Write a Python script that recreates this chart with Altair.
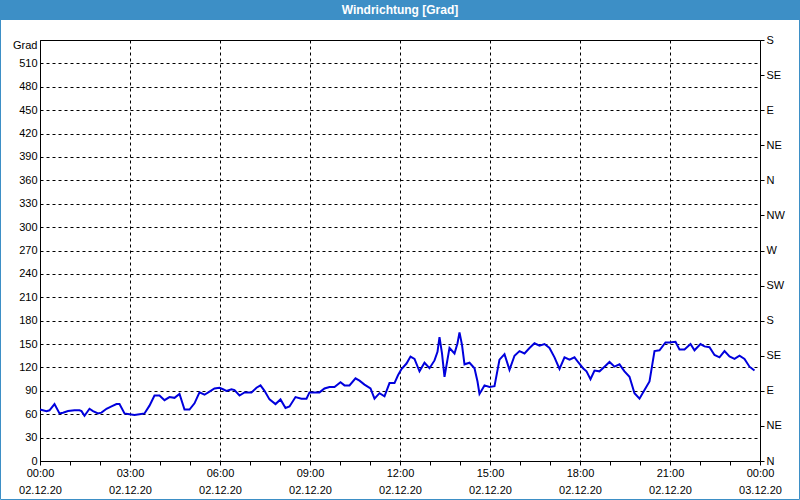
import json
import altair as alt
import pandas as pd

# ---- data -------------------------------------------------------------
minutes = [0, 13, 19, 29, 39, 46, 56, 69, 79, 83, 89, 99, 106, 116, 123, 133, 143, 153, 159, 169,
           179, 189, 199, 209, 219, 229, 239, 249, 259, 269, 279, 289, 299, 309, 319, 329, 339, 349, 359, 366,
           373, 383, 389, 399, 409, 423, 433, 441, 449, 459, 471, 481, 491, 499, 511, 523, 533, 539, 549, 559,
           569, 579, 589, 601, 609, 619, 631, 639, 649, 661, 669, 679, 689, 699, 709, 716, 723, 733, 741, 749,
           759, 769, 779, 789, 795, 799, 804, 809, 819, 829, 835, 839, 844, 849, 859, 869, 875, 879, 889, 899,
           909, 919, 929, 939, 949, 959, 969, 979, 989, 999, 1009, 1019, 1029, 1039, 1049, 1059, 1069, 1076, 1086, 1093,
           1101, 1109, 1119, 1129, 1139, 1149, 1159, 1169, 1179, 1189, 1199, 1209, 1219, 1229, 1239, 1251, 1259, 1271, 1279, 1289,
           1301, 1309, 1321, 1329, 1339, 1349, 1359, 1369, 1379, 1389, 1399, 1409, 1419, 1429]
degrees = [66, 64, 65, 73, 61, 62, 64, 65, 65, 64, 58, 67, 64, 61, 62, 67, 70, 73, 73, 61,
           60, 59, 60, 61, 71, 84, 84, 78, 82, 81, 86, 66, 66, 74, 88, 85, 89, 93, 94, 92,
           90, 92, 91, 84, 88, 88, 94, 97, 90, 79, 73, 79, 68, 70, 82, 80, 80, 88, 88, 88,
           93, 95, 95, 101, 97, 97, 106, 103, 98, 93, 80, 87, 83, 100, 100, 110, 118, 125, 134, 131,
           115, 126, 119, 129, 140, 159, 138, 108, 145, 138, 151, 165, 149, 124, 126, 119, 102, 86, 97, 95,
           96, 130, 137, 117, 135, 141, 138, 145, 151, 148, 150, 145, 133, 118, 133, 130, 133, 127, 119, 115,
           105, 116, 115, 121, 127, 121, 124, 115, 108, 87, 80, 91, 102, 141, 142, 152, 152, 153, 143, 143,
           150, 142, 150, 147, 146, 136, 133, 141, 134, 131, 135, 131, 121, 116]

x_tick_values = [0, 60, 120, 180, 240, 300, 360, 420, 480, 540, 600, 660, 720, 780, 840, 900,
                 960, 1020, 1080, 1140, 1200, 1260, 1320, 1380, 1440]
x_tick_times = ["00:00", "03:00", "06:00", "09:00", "12:00", "15:00", "18:00", "21:00", "00:00"]
x_tick_dates = ["02.12.20", "02.12.20", "02.12.20", "02.12.20", "02.12.20",
                "02.12.20", "02.12.20", "02.12.20", "03.12.20"]
y_tick_values = [0, 30, 60, 90, 120, 150, 180, 210, 240, 270, 300, 330, 360, 390, 420, 450, 480, 510]
compass_values = [0, 45, 90, 135, 180, 225, 270, 315, 360, 405, 450, 495, 540]
compass_labels = ["N", "NE", "E", "SE", "S", "SW", "W", "NW", "N", "NE", "E", "SE", "S"]
title_text = "Windrichtung [Grad]"
y_title = "Grad"

df = pd.DataFrame({"minute": minutes, "deg": degrees})

FONT = "Liberation Sans"
BAR = "#3d8fc6"

x_label_expr = (
    f"datum.value % 180 == 0 ? [{json.dumps(x_tick_times)}[round(datum.value/180)], "
    f"{json.dumps(x_tick_dates)}[round(datum.value/180)]] : ''"
)
right_label_expr = f"{json.dumps(compass_labels)}[round(datum.value/45)]"

x_scale = alt.Scale(domain=[0, 1440], nice=False, zero=False)
y_scale = alt.Scale(domain=[0, 540], nice=False)

x_axis = alt.Axis(values=x_tick_values, labelExpr=x_label_expr,
                  grid=True,
                  gridOpacity={"condition": {"test": "datum.value % 180 == 0", "value": 1}, "value": 0},
                  gridColor="black", gridDash=[3, 3], gridWidth=1,
                  ticks=True, tickSize=4, tickColor="black",
                  domainColor="black", labelPadding=2, labelLineHeight=17,
                  labelFont=FONT, labelFontSize=11, labelColor="black",
                  labelOverlap=False, labelFlush=False)

line = alt.Chart(df).mark_line(color="#0000dd", strokeWidth=2).encode(
    x=alt.X("minute:Q", scale=x_scale, title=None, axis=x_axis),
    y=alt.Y("deg:Q", scale=y_scale,
            axis=alt.Axis(orient="left", values=y_tick_values, ticks=False,
                          grid=True, gridColor="black", gridDash=[3, 3], gridWidth=1,
                          domainColor="black", labelPadding=3,
                          labelFont=FONT, labelFontSize=11, labelColor="black",
                          labelOverlap=False, labelFlush=False,
                          title=y_title, titleAngle=0, titleX=-3, titleY=5,
                          titleAlign="right", titleBaseline="middle",
                          titleFont=FONT, titleFontSize=11, titleFontWeight="normal",
                          titleColor="black")),
)

right = alt.Chart(df).mark_line(opacity=0).encode(
    x=alt.X("minute:Q", scale=x_scale, title=None, axis=x_axis),
    y=alt.Y("deg:Q", scale=y_scale,
            axis=alt.Axis(orient="right", values=compass_values, labelExpr=right_label_expr,
                          grid=False, ticks=True, tickSize=4, tickColor="black",
                          domain=False, labelPadding=2, title=None,
                          labelFont=FONT, labelFontSize=11, labelColor="black",
                          labelOverlap=False, labelFlush=False)),
)

deco = alt.Data(values=[{"t": title_text}])
bar = alt.Chart(deco).mark_rect(fill=BAR).encode(
    x=alt.value(-40), x2=alt.value(760), y=alt.value(-40), y2=alt.value(-20))
frame = alt.Chart(deco).mark_rect(fill="transparent", stroke=BAR, strokeWidth=1).encode(
    x=alt.value(-39.5), x2=alt.value(759.5), y=alt.value(-39.5), y2=alt.value(459.5))
title = alt.Chart(deco).mark_text(color="white", font=FONT, fontSize=12, fontWeight="bold",
                                  align="center", baseline="middle").encode(
    x=alt.value(360), y=alt.value(-30), text="t:N")

chart = alt.layer(bar, frame, title, line, right).resolve_axis(y="independent").properties(
    width=720, height=421,
    autosize="none",
    padding={"left": 40, "top": 40, "right": 40, "bottom": 39},
    background="white",
).configure_view(stroke="black", strokeWidth=1)

chart.save("out.html", embed_options={"renderer": "svg", "actions": False})
